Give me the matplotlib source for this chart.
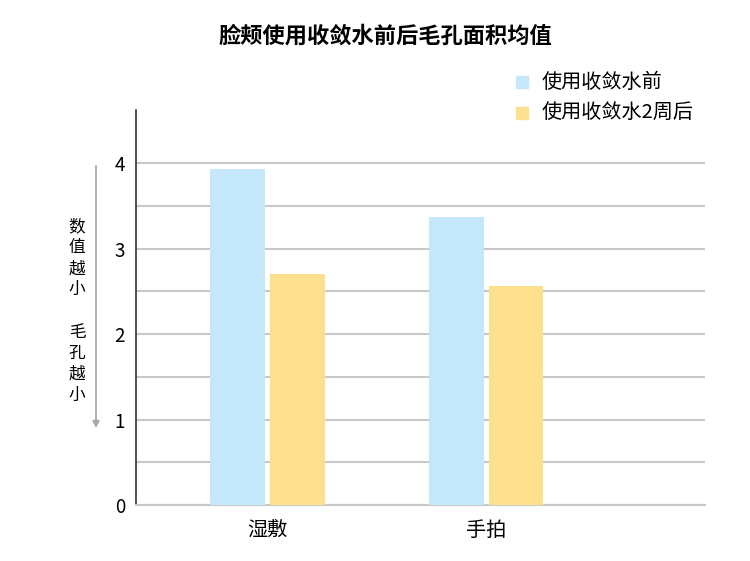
import matplotlib.pyplot as plt
import numpy as np

plt.rcParams['font.family'] = ['Noto Sans CJK SC', 'DejaVu Sans']

categories = ['湿敷', '手拍']
series_names = ['使用收敛水前', '使用收敛水2周后']
before = [3.93, 3.37]
after = [2.70, 2.56]
colors = ['#c4e8fa', '#fde08e']

fig = plt.figure(figsize=(7.5, 5.61), dpi=100)
ax = fig.add_axes([136/750, 56/561, 569/750, 395/561])

x = np.arange(len(categories))
w = 0.25
ax.bar(x - 0.135, before, w, color=colors[0], zorder=3)
ax.bar(x + 0.137, after, w, color=colors[1], zorder=3)

ax.set_xlim(-0.6, 2.0)
ax.set_ylim(0, 4.62)
ax.set_yticks([0, 1, 2, 3, 4])
ax.set_yticks(np.arange(0.5, 4.5, 1), minor=True)
ax.set_xticks(x)
ax.set_xticklabels(categories, fontsize=14.5)
ax.tick_params(axis='y', length=0, labelsize=13.5, pad=8)
ax.tick_params(axis='x', length=0, pad=11)
ax.tick_params(axis='y', which='minor', length=0)
ax.grid(axis='y', which='both', color='#c8c8c8', lw=1.5, zorder=0)

for s in ['top', 'right']:
    ax.spines[s].set_visible(False)
ax.spines['bottom'].set_color('#c8c8c8')
ax.spines['bottom'].set_linewidth(1.5)
ax.spines['left'].set_color('#333333')
ax.spines['left'].set_linewidth(1.2)

fig.text(385.5/750, 1 - 36/561, '脸颊使用收敛水前后毛孔面积均值', ha='center', va='center',
         fontsize=16, fontweight='bold')

# legend
for i, name in enumerate(series_names):
    yy = 1 - (82 + 31 * i) / 561
    fig.patches.append(plt.Rectangle((516/750, yy - 6/561), 12/750, 12/561,
                                     transform=fig.transFigure, color=colors[i]))
    fig.text(542/750, yy, name, ha='left', va='center', fontsize=14.5)

# y-axis note with arrow
fig.text(77/750, 1 - 311/561, '数\n值\n越\n小\n\n毛\n孔\n越\n小', ha='center',
         va='center', fontsize=12, linespacing=1.32)
ax.annotate('', xy=(96/750, 1 - 431/561), xytext=(96/750, 1 - 163/561),
            xycoords='figure fraction',
            arrowprops=dict(arrowstyle='-|>', color='#aaaaaa', lw=1.3,
                            mutation_scale=10))

fig.savefig('out.png', dpi=100)
